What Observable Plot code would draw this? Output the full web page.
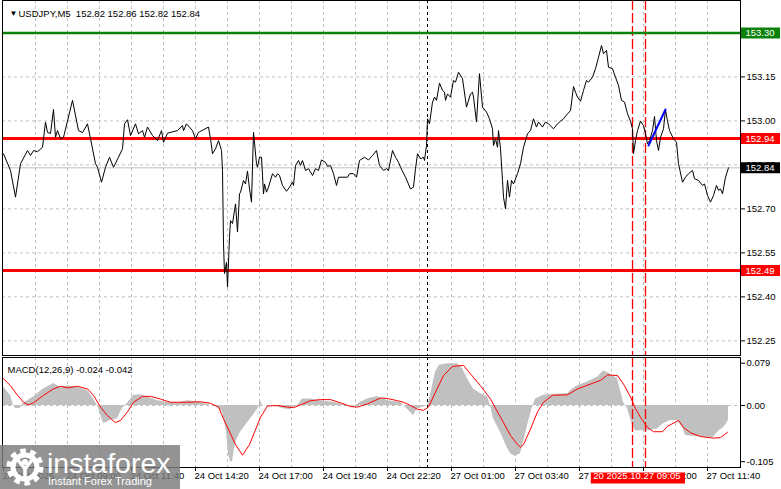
<!DOCTYPE html>
<html><head><meta charset="utf-8">
<script src="https://cdn.jsdelivr.net/npm/d3@7"></script>
<script src="https://cdn.jsdelivr.net/npm/@observablehq/plot@0.6"></script>
<style>
body{margin:0;background:#fff;}
#wrap{position:relative;width:781px;height:489px;overflow:hidden;font-family:"Liberation Sans",Arial,sans-serif;}
#wrap svg{position:absolute;left:0;overflow:visible;}
</style></head><body><div id="wrap"></div>
<script>
// ---------- data (bar index = 5-minute bars, 0 = 24 Oct 06:20) ----------
const titleText = "USDJPY,M5  152.82 152.86 152.82 152.84";
const macdTitle = "MACD(12,26,9) -0.024 -0.042";

const pricePts = [
[0,152.888],[3.5,152.831],[6,152.740],[8.5,152.854],[12,152.899],[13.5,152.882],[15,152.899],[17,152.895],[19.5,152.910],[21,152.996],[22,152.961],[23.5,152.957],[25,153.039],[26,152.944],[27,152.967],[28.5,152.939],[30,152.944],[34.5,153.070],[37.5,152.967],[39.5,152.960],[42,152.990],[43.5,152.939],[46,152.854],[47,152.842],[49,152.791],[51,152.842],[53,152.876],[55,152.842],[57.5,152.876],[59.5,152.905],[60.5,152.990],[62,153.004],[63.5,152.950],[66,152.990],[67.5,152.956],[69.5,152.967],[70.5,152.944],[72,152.979],[74.5,152.950],[77,152.933],[79,152.967],[80,152.927],[82,152.958],[87,152.967],[89.5,152.984],[90,152.967],[91.5,152.990],[94.5,152.967],[96,152.939],[97.5,152.961],[102.5,152.979],[103.5,152.939],[104.5,152.888],[106,152.905],[107.5,152.933],[109,152.899],[109.5,152.831],[110,152.581],[110.5,152.479],[111.5,152.518],[112,152.433],[113,152.603],[113.5,152.660],[114.5,152.650],[116,152.717],[117,152.621],[118,152.751],
[118.5,152.757],[120,152.797],[121,152.785],[122,152.829],[123,152.768],[124,152.723],[125,152.961],[126.5,152.854],[127,152.842],[128,152.876],[129,152.876],[130,152.751],[130.5,152.785],[131.5,152.757],[132.5,152.774],[134.5,152.820],[136,152.808],[137,152.820],[138,152.814],[139.5,152.780],[141.5,152.760],[143,152.774],[144.5,152.791],[145,152.780],[146,152.848],[147.5,152.865],[148.5,152.848],[149.5,152.865],[151,152.831],[152.5,152.837],[154.5,152.814],[156,152.837],[157.5,152.831],[159,152.867],[161,152.859],[162,152.845],[163.5,152.848],[165,152.820],[166.5,152.780],[167.5,152.808],[172,152.808],[173,152.820],[175,152.820],[176.5,152.808],[178,152.865],[180.5,152.876],[182.5,152.867],[184.5,152.882],[186.5,152.899],[188,152.848],[190,152.831],[191.5,152.837],[192.5,152.831],[194.5,152.899],[196,152.876],[197.5,152.859],
[198.5,152.842],[201,152.808],[203.5,152.768],[205,152.774],[206,152.837],[207,152.888],[208.5,152.871],[210,152.876],[210.5,152.865],[211.5,152.916],[212,153.007],[213,152.990],[214.5,153.064],[215.5,153.081],[216.5,153.070],[218,153.129],[219.5,153.104],[220.5,153.098],[221,153.070],[222,153.092],[223.5,153.081],[225,153.138],[226,153.132],[227.5,153.166],[229.5,153.144],[231.5,153.047],[233.5,153.092],[234.5,153.098],[235,153.081],[236.5,152.996],[237.5,153.109],[238,153.161],[239.5,153.047],[241.5,153.030],[243,153.007],[244.5,152.973],[245,152.916],[246,152.939],[247,152.910],[247.5,152.967],[248.5,152.905],[249.5,152.797],[250,152.740],[251,152.700],[252,152.797],[253,152.740],[254,152.797],[255,152.785],[257,152.820],[258.5,152.854],[260,152.910],[262,152.956],[263.5,152.967],[265,153.007],[266.5,152.979],[267.5,152.996],[269.5,152.979],[271,152.996],[272.5,152.990],[275,152.973],[277,152.990],[278.5,152.999],[280,153.007],[282,153.024],[283.5,153.035],[285,153.117],[286,153.098],[287,153.081],[288.5,153.067],[290,153.104],[291.5,153.138],[292.5,153.132],[294.5,153.149],[296,153.178],[297.5,153.217],[299,153.257],[300,153.229],[301.5,153.240],[302.5,153.183],[304.5,153.178],[306,153.149],[307.5,153.121],[309,153.070],[310.5,153.064],[312,153.024],[313.5,152.999],[314.5,152.973],[315,152.888],[316,152.933],[317,152.967],[318.5,152.999],[320,152.984],[321,152.956],[322,152.922],[323,152.933],[324.5,152.967],[325.5,153.015],[326.5,152.933],[327.5,152.899],[328.5,152.944],[330,152.973],[331,153.038],[332,152.999],[333,152.967],[335,152.939],[336.5,152.927],[337.5,152.854],[339.5,152.791],[341,152.808],[342.5,152.820],[344.5,152.831],[345.5,152.803],[347.5,152.797],[349.5,152.780],[350.5,152.785],[352,152.746],[353.5,152.723],[355,152.746],[356.5,152.780],[357.5,152.763],[358.5,152.768],[359.5,152.751],[361,152.808],[362.5,152.840]
];

const histPts = [
[0,0.034],[3.5,0.019],[5,0],[6,-0.006],[8.5,-0.005],[9.5,0.003],[12,0.009],[15,0.016],[20,0.031],[25,0.041],[28.5,0.034],[32,0.037],[37,0.034],[42,0.028],[45,0.012],[47,0],[48.5,-0.016],[50,-0.034],[53.5,-0.028],[57,-0.025],[58.5,-0.012],[60,-0.003],[62.5,0.006],[65,0.019],[68.5,0.020],[72,0.016],[77,0.009],[82,0.006],[87,0.005],[92,0.009],[98.5,0.006],[103.5,0],[107,-0.003],[109.5,-0.012],[110.5,-0.030],[111.5,-0.050],[112.5,-0.090],[113.5,-0.105],[114.5,-0.105],[115.5,-0.080],[116.5,-0.065],[118.5,-0.050],[120.5,-0.040],[122.5,-0.030],[124.5,-0.020],[126.5,-0.010],[127.5,-0.004],[128.5,0.010],[129.5,0],[132,0],[137,-0.003],[140,-0.006],[143.5,-0.008],[147,0],[149.5,0.012],[153.5,0.012],[158.5,0.009],[165,0.006],[172,0],[175,-0.003],[178.5,0.006],[182,0.012],[187,0.017],[192,0.009],[198.5,0.006],[202.5,-0.009],[205,-0.019],[207,-0.006],[210,-0.003],[212,0],[213.5,0.019],[216,0.062],[218,0.075],[222,0.078],[227,0.078],[229.5,0.069],[232,0.050],[235,0.031],[238.5,0.022],[242,0.016],[243.5,0],[245,-0.025],[248.5,-0.050],[251,-0.072],[253.5,-0.090],[256,-0.095],[258.5,-0.090],[260,-0.069],[262.5,-0.031],[264.5,-0.003],[266,0.012],[270,0.019],[275,0.021],[282,0.022],[284.5,0.031],[287,0.037],[292,0.044],[297,0.053],[300,0.065],[303.5,0.059],[307,0.050],[308.5,0.028],[310,0.006],[312,-0.006],[314.5,-0.037],[316,-0.047],[322,-0.047],[327,-0.044],[330,-0.034],[333.5,-0.028],[337,-0.028],[339.5,-0.041],[341,-0.056],[348.5,-0.059],[355,-0.060],[357,-0.050],[360,-0.041],[362,-0.032],[362.5,-0.026]
];

const signalPts = [
[0,0.050],[3.5,0.037],[7,0.019],[10,0.006],[12.5,0.001],[15,0.005],[20,0.019],[25,0.031],[28.5,0.036],[32,0.033],[37,0.036],[42,0.031],[45,0.019],[48.5,-0.003],[52,-0.019],[56,-0.032],[58.5,-0.028],[62,-0.012],[65,0.006],[69.5,0.017],[73.5,0.017],[78.5,0.012],[83.5,0.006],[92,0.006],[98.5,0.007],[103.5,0.004],[107.5,-0.003],[110,-0.025],[113.5,-0.053],[116,-0.073],[119.5,-0.093],[123,-0.073],[125.5,-0.050],[128.5,-0.022],[132,-0.001],[137,0],[142,-0.003],[145,-0.004],[148.5,0.001],[153.5,0.009],[158.5,0.011],[163.5,0.011],[168.5,0.005],[173.5,-0.002],[177,-0.003],[182,0.003],[188.5,0.014],[192,0.013],[197,0.009],[200,0.006],[203.5,0],[207,-0.007],[210,-0.009],[212.5,-0.003],[216,0.025],[220,0.056],[224.5,0.073],[230,0.075],[233.5,0.059],[238.5,0.037],[243.5,0.012],[248.5,-0.022],[253.5,-0.056],[257,-0.073],[258.5,-0.078],[260,-0.073],[263.5,-0.044],[267,-0.012],[270,0.006],[274.5,0.019],[282,0.020],[287,0.031],[293.5,0.040],[298.5,0.047],[302,0.057],[307,0.056],[310,0.040],[313.5,0.016],[316,-0.006],[318.5,-0.022],[322,-0.041],[325,-0.049],[329.5,-0.049],[332,-0.039],[337.5,-0.028],[340,-0.041],[343.5,-0.051],[348.5,-0.058],[355,-0.061],[358.5,-0.060],[362,-0.050]
];

const bluePts = [[322.5,152.916],[331,153.039]];

const priceTicks = [153.30, 153.15, 153.00, 152.85, 152.70, 152.55, 152.40, 152.25];
const macdTicks = [0.079, 0, -0.105];
const macdTickLabels = ["0.079", "0.00", "-0.105"];

const levelValues = [153.30, 152.94, 152.49];
const levelColors = ["#0a820a", "#ff0000", "#ff0000"];
const bidValue = 152.84;

const timeBars = [0, 32, 64, 96, 128, 160, 192, 224, 256, 288, 320, 352];
const timeLabels = ["24 Oct 2025","24 Oct 09:00","24 Oct 11:40","24 Oct 14:20","24 Oct 17:00","24 Oct 19:40","24 Oct 22:20","27 Oct 01:00","27 Oct 03:40","27 Oct 06:20","27 Oct 09:00","27 Oct 11:40"];
const gridBars = d3.range(16, 353, 16);
const sessionBar = 212;          // 27 Oct 00:00
const markerBars = [314.5, 321]; // red dashed verticals
const crossLabel = "20 2025.10.27 09:05";
const crossBox = [293.9, 341];

// ---------- layout ----------
const xDomain = [-0.5, 368.5];
const boxEnd = 388.5;
const FONT = "Liberation Sans, Arial, sans-serif";
const FS = 9.5;
const gridStyle = {stroke: "#c0c0c0", strokeOpacity: 1, strokeDasharray: "3,3"};
const wrap = document.getElementById("wrap");

const boxes = levelValues.map((v, i) => ({v, c: levelColors[i]})).concat([{v: bidValue, c: "#000000"}]);
const levels = levelValues.map((v, i) => ({v, c: levelColors[i], w: i === 0 ? 2.5 : 3}));

const main = Plot.plot({
  width: 781, height: 356,
  marginLeft: 2, marginRight: 41, marginTop: 0, marginBottom: 1,
  style: {fontFamily: FONT, fontSize: FS + "px", background: "transparent", overflow: "visible"},
  x: {domain: xDomain, axis: null, label: null},
  y: {domain: [152.2001, 153.4105], axis: null, label: null},
  marks: [
    Plot.gridX(gridBars, gridStyle),
    Plot.gridY(priceTicks, gridStyle),
    Plot.ruleY([bidValue], {stroke: "#c0c0c0"}),
    Plot.ruleX([sessionBar], {stroke: "#000", strokeDasharray: "3,3"}),
    Plot.ruleX(markerBars, {stroke: "#ff0000", strokeDasharray: "10,3", strokeWidth: 1.3}),
    Plot.ruleY(levels, {y: "v", stroke: "c", strokeWidth: "w"}),
    Plot.line(pricePts, {x: d => d[0], y: d => d[1], stroke: "#000", strokeWidth: 1}),
    Plot.line(bluePts, {x: d => d[0], y: d => d[1], stroke: "#0000ff", strokeWidth: 2}),
    Plot.axisY({anchor: "right", ticks: priceTicks, tickFormat: d => d.toFixed(2), tickSize: 4, tickPadding: 2, fill: "#000", label: null, fontSize: FS}),
    Plot.ruleY(boxes, {y: "v", x1: xDomain[1], x2: boxEnd, stroke: "c", strokeWidth: 11}),
    Plot.text(boxes, {y: "v", x: xDomain[1], text: d => d.v.toFixed(2), dx: 5, textAnchor: "start", fill: "#fff", fontSize: FS}),
    Plot.frame({stroke: "#000"}),
    Plot.text(["▼"], {frameAnchor: "top-left", dx: 7, dy: 10, fontSize: 8, fill: "#000"}),
    Plot.text([titleText], {frameAnchor: "top-left", dx: 16, dy: 10, textAnchor: "start", fill: "#000", fontSize: FS})
  ]
});
main.style.top = "0px";
wrap.appendChild(main);

const macd = Plot.plot({
  width: 781, height: 133,
  marginLeft: 2, marginRight: 41, marginTop: 1, marginBottom: 22,
  style: {fontFamily: FONT, fontSize: FS + "px", background: "transparent", overflow: "visible"},
  x: {domain: xDomain, axis: null, label: null},
  y: {domain: [-0.1159, 0.0897], axis: null, label: null},
  marks: [
    Plot.gridX(gridBars, gridStyle),
    Plot.ruleY([0], gridStyle),
    Plot.areaY(histPts, {x: d => d[0], y: d => d[1], fill: "#c0c0c0"}),
    Plot.ruleX([sessionBar], {stroke: "#000", strokeDasharray: "3,3"}),
    Plot.ruleX(markerBars, {stroke: "#ff0000", strokeDasharray: "10,3", strokeWidth: 1.3}),
    Plot.line(signalPts, {x: d => d[0], y: d => d[1], stroke: "#ff0000", strokeWidth: 1}),
    Plot.axisY({anchor: "right", ticks: macdTicks, tickFormat: d => macdTickLabels[macdTicks.indexOf(d)], tickSize: 4, tickPadding: 2, fill: "#000", label: null, fontSize: FS}),
    Plot.axisX({ticks: timeBars, tickFormat: () => "", tickSize: 4, label: null}),
    Plot.text(timeBars, {x: d => d, text: (d, i) => timeLabels[i], frameAnchor: "bottom", dy: 11, dx: -1, textAnchor: "start", fill: "#000", fontSize: FS}),
    Plot.ruleY([-0.1159], {x1: crossBox[0], x2: crossBox[1], stroke: "#ff0000", strokeWidth: 11, dy: 10.5}),
    Plot.text([crossLabel], {x: crossBox[0], frameAnchor: "bottom", dy: 11, dx: 2, textAnchor: "start", fill: "#fff", fontSize: FS}),
    Plot.frame({stroke: "#000"}),
    Plot.text([macdTitle], {frameAnchor: "top-left", dx: 5, dy: 9, textAnchor: "start", fill: "#000", fontSize: FS})
  ]
});
macd.style.top = "356px";
wrap.appendChild(macd);

// watermark overlay
const ns = "http://www.w3.org/2000/svg";
const wm = document.createElementNS(ns, "svg");
wm.setAttribute("width", 185); wm.setAttribute("height", 49);
wm.style.top = "440px";
wm.innerHTML = `
<rect x="0" y="5" width="180" height="44" fill="#7b7b7b" fill-opacity="0.82"/>
<circle cx="25" cy="27" r="15" fill="none" stroke="#fff" stroke-width="7" stroke-dasharray="5.2,4.2"/>
<circle cx="25" cy="27" r="12" fill="none" stroke="#fff" stroke-width="5"/>
<circle cx="25" cy="22" r="3" fill="#fff"/>
<path d="M18 20 L25 29 L32 20 M25 29 L25 40" stroke="#fff" stroke-width="3.5" fill="none"/>
<text x="47" y="33" font-family="Liberation Sans, Arial, sans-serif" font-size="28.5" fill="#fff">instaforex</text>
<text x="48" y="45" font-family="Liberation Sans, Arial, sans-serif" font-size="11" fill="#fff">Instant Forex Trading</text>`;
wrap.appendChild(wm);
</script></body></html>
